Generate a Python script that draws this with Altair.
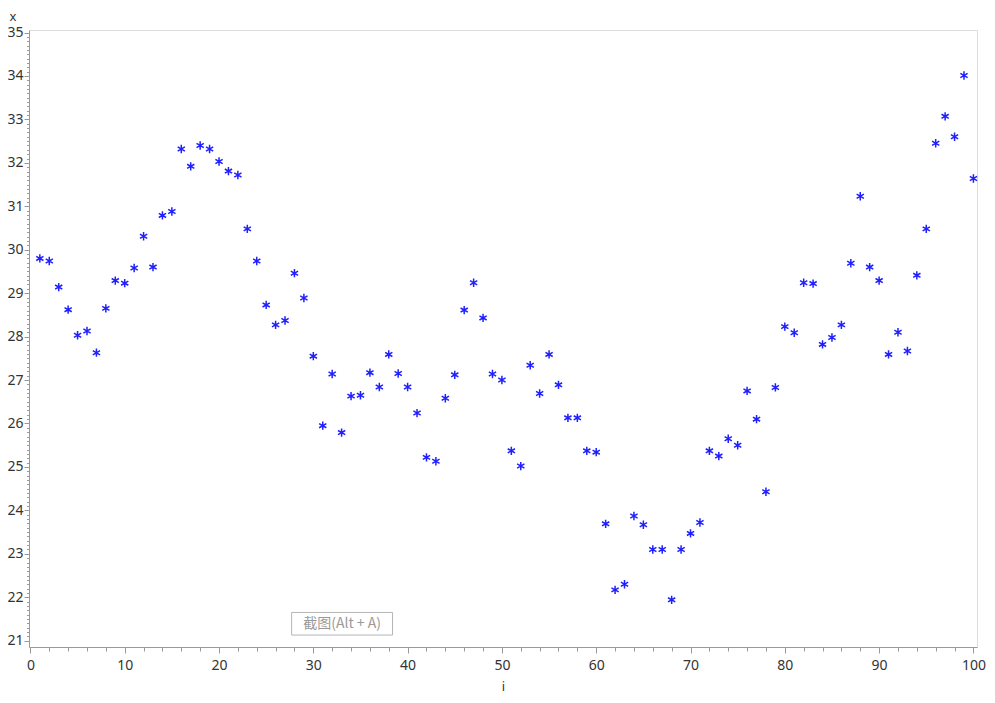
import altair as alt
import pandas as pd

i_values = list(range(1, 101))
x_values = [
    29.80, 29.74, 29.14, 28.62, 28.03, 28.13, 27.63, 28.65, 29.29, 29.23,
    29.58, 30.31, 29.60, 30.79, 30.88, 32.32, 31.92, 32.40, 32.32, 32.03,
    31.81, 31.72, 30.48, 29.74, 28.73, 28.27, 28.37, 29.46, 28.89, 27.55,
    25.95, 27.14, 25.79, 26.63, 26.65, 27.17, 26.84, 27.59, 27.15, 26.84,
    26.24, 25.22, 25.13, 26.58, 27.12, 28.61, 29.24, 28.43, 27.14, 27.00,
    25.37, 25.02, 27.34, 26.69, 27.59, 26.89, 26.13, 26.13, 25.37, 25.34,
    23.69, 22.17, 22.30, 23.87, 23.67, 23.10, 23.10, 21.94, 23.10, 23.47,
    23.72, 25.37, 25.25, 25.65, 25.50, 26.75, 26.10, 24.43, 26.83, 28.23,
    28.09, 29.24, 29.22, 27.82, 27.98, 28.27, 29.69, 31.23, 29.60, 29.29,
    27.59, 28.10, 27.67, 29.41, 30.48, 32.45, 33.07, 32.60, 34.01, 31.64,
]

x_tick_values = list(range(0, 101, 2))
y_tick_values = [round(21 + k * 0.1, 1) for k in range(141)]

note_text = ["截图(Alt + A)"]
note_x0 = [27.7]
note_x1 = [38.4]
note_y0 = [21.13]
note_y1 = [21.65]
note_xc = [33.05]
note_yc = [21.39]

df = pd.DataFrame({"i": i_values, "x": x_values})
note_df = pd.DataFrame({"i": note_x0, "i2": note_x1, "x": note_y0, "x2": note_y1,
                        "ic": note_xc, "xc": note_yc, "label": note_text})

asterisk = "M0,-1L0,1M-0.866,-0.5L0.866,0.5M-0.866,0.5L0.866,-0.5"

xscale = alt.Scale(domain=[-0.15, 100.38], nice=False, zero=False)
yscale = alt.Scale(domain=[20.855, 35.058], nice=False, zero=False)

axis_common = dict(
    grid=False,
    domainColor="#9a9a9a",
    tickColor="#9a9a9a",
    labelColor="#333333",
    titleColor="#333333",
    labelFont="Noto Sans",
    titleFont="Noto Sans",
    labelFontSize=14,
    titleFontSize=13,
    titleFontWeight="normal",
    labelOverlap=False,
    labelFlush=False,
)

x_axis = alt.Axis(
    values=x_tick_values,
    labelExpr="datum.value % 10 == 0 ? '' + datum.value : ''",
    tickSize={"condition": {"test": "datum.value % 10 == 0", "value": 6}, "value": 4},
    labelPadding=5,
    titlePadding=8,
    title="i",
    **axis_common,
)

y_axis = alt.Axis(
    values=y_tick_values,
    labelExpr="abs(datum.value - round(datum.value)) < 0.001 ? '' + round(datum.value) : ''",
    tickSize={"condition": {"test": "abs(datum.value - round(datum.value)) < 0.001", "value": 5},
              "value": 2.5},
    labelPadding=1,
    title="x",
    titleAngle=0,
    titleAlign="center",
    titleBaseline="alphabetic",
    titleX=-16.5,
    titleY=-10,
    **axis_common,
)

points = alt.Chart(df).mark_point(
    shape=asterisk, filled=False, stroke="#1f1fff", strokeWidth=1.5, size=70, opacity=1
).encode(
    x=alt.X("i:Q", scale=xscale, axis=x_axis),
    y=alt.Y("x:Q", scale=yscale, axis=y_axis),
)

note_box = alt.Chart(note_df).mark_rect(
    fill="white", stroke="#b5b5b5", strokeWidth=1
).encode(
    x=alt.X("i:Q", scale=xscale, axis=x_axis),
    x2="i2:Q",
    y=alt.Y("x:Q", scale=yscale, axis=y_axis),
    y2="x2:Q",
)

note_label = alt.Chart(note_df).mark_text(
    font="Noto Sans CJK SC", fontSize=14, color="#9a9a9a", align="center", baseline="middle"
).encode(
    x=alt.X("ic:Q", scale=xscale, axis=x_axis),
    y=alt.Y("xc:Q", scale=yscale, axis=y_axis),
    text="label:N",
)

chart = alt.layer(points, note_box, note_label).properties(
    width=948,
    height=617,
    autosize=alt.AutoSizeParams(type="none"),
    padding={"left": 21, "top": 22, "right": 10, "bottom": 48},
).configure_view(
    stroke="#b0b0b0", strokeWidth=1
).configure(background="white")

chart.save("out.html", embed_options={"renderer": "svg", "actions": False})
